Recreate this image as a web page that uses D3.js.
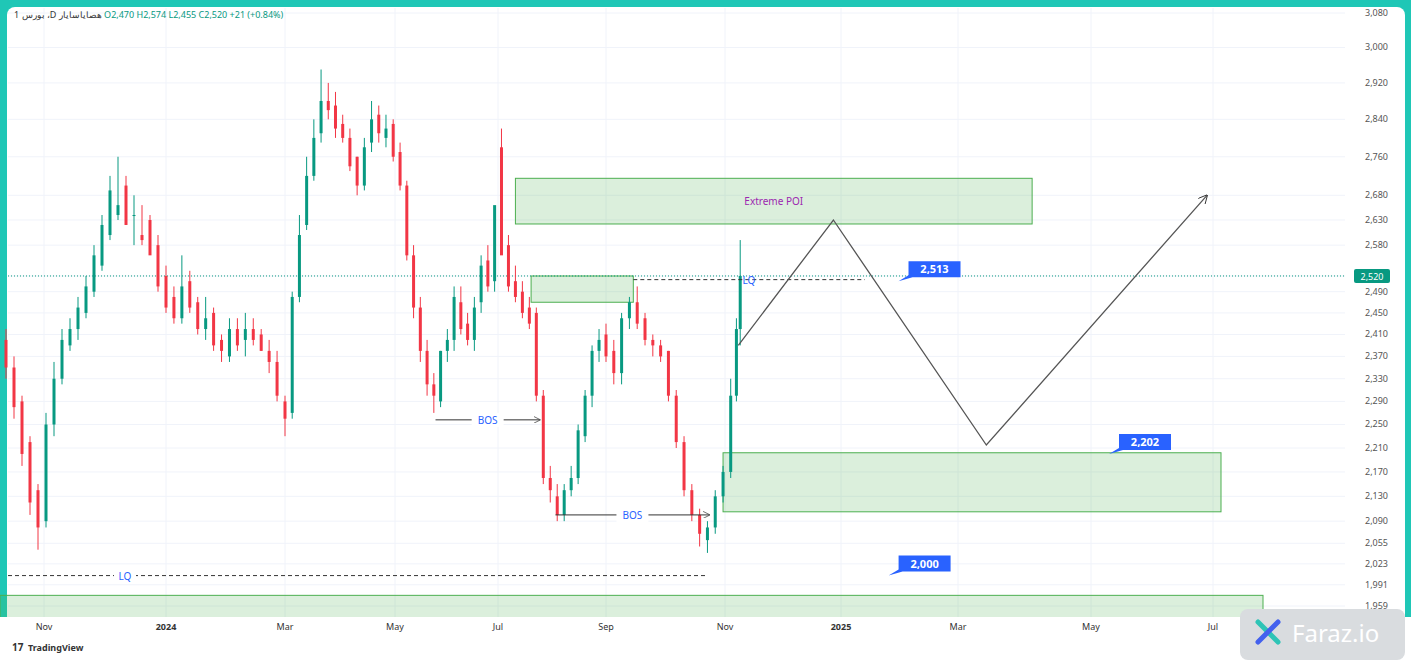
<!DOCTYPE html>
<html><head><meta charset="utf-8">
<script src="https://cdn.jsdelivr.net/npm/d3@7"></script>
<style>body{margin:0;background:#1fc7b6;font-family:"Noto Sans",Roboto,sans-serif}</style>
</head><body>
<svg id="c" width="1411" height="660"></svg>
<script>
const priceTicks=[3080,3000,2920,2840,2760,2680,2630,2580,2520,2490,2450,2410,2370,2330,2290,2250,2210,2170,2130,2090,2055,2023,1991,1959];
const timeTicks=[["2023-11-01","Nov"],["2024-01-01","2024"],["2024-03-01","Mar"],["2024-05-01","May"],["2024-07-01","Jul"],["2024-09-01","Sep"],["2024-11-01","Nov"],["2025-01-01","2025"],["2025-03-01","Mar"],["2025-05-01","May"],["2025-07-01","Jul"]];
const dates=["2023-10-13","2023-10-17","2023-10-21","2023-10-25","2023-10-29","2023-11-02","2023-11-06","2023-11-10","2023-11-14","2023-11-18","2023-11-22","2023-11-26","2023-11-30","2023-12-04","2023-12-08","2023-12-12","2023-12-16","2023-12-20","2023-12-24","2023-12-28","2024-01-01","2024-01-05","2024-01-09","2024-01-13","2024-01-17","2024-01-21","2024-01-25","2024-01-29","2024-02-02","2024-02-06","2024-02-10","2024-02-14","2024-02-18","2024-02-22","2024-02-26","2024-03-01","2024-03-05","2024-03-09","2024-03-13","2024-03-17","2024-03-21","2024-03-25","2024-03-29","2024-04-02","2024-04-06","2024-04-10","2024-04-14","2024-04-18","2024-04-22","2024-04-26","2024-04-30","2024-05-04","2024-05-08","2024-05-12","2024-05-16","2024-05-20","2024-05-24","2024-05-28","2024-06-01","2024-06-05","2024-06-09","2024-06-13","2024-06-17","2024-06-21","2024-06-25","2024-06-29","2024-07-03","2024-07-07","2024-07-11","2024-07-15","2024-07-19","2024-07-23","2024-07-27","2024-07-31","2024-08-04","2024-08-08","2024-08-12","2024-08-16","2024-08-20","2024-08-24","2024-08-28","2024-09-01","2024-09-05","2024-09-09","2024-09-13","2024-09-17","2024-09-21","2024-09-25","2024-09-29","2024-10-03","2024-10-07","2024-10-11","2024-10-15","2024-10-19","2024-10-23","2024-10-27","2024-10-31","2024-11-04","2024-11-07","2024-11-09"];
const opens=[2400,2350,2290,2220,2140,2090,2250,2330,2390,2420,2450,2490,2540,2600,2640,2700,2640,2600,2630,2580,2520,2480,2440,2510,2470,2420,2450,2400,2370,2420,2400,2420,2410,2380,2360,2290,2270,2480,2620,2720,2810,2880,2870,2830,2800,2760,2700,2790,2850,2800,2830,2770,2700,2560,2460,2380,2320,2290,2380,2400,2470,2430,2400,2470,2550,2510,2780,2580,2510,2490,2460,2450,2300,2160,2130,2100,2140,2160,2230,2300,2380,2410,2380,2340,2440,2470,2440,2400,2390,2380,2300,2220,2140,2100,2060,2080,2130,2170,2300,2420];
const highs=[2420,2370,2300,2230,2150,2270,2360,2420,2440,2480,2520,2580,2640,2720,2760,2720,2680,2660,2640,2600,2540,2500,2560,2530,2480,2480,2460,2410,2440,2440,2450,2440,2420,2400,2380,2300,2490,2640,2760,2840,2950,2920,2900,2850,2820,2760,2800,2880,2870,2850,2840,2790,2710,2580,2480,2400,2340,2380,2420,2500,2500,2450,2480,2560,2580,2560,2820,2600,2540,2510,2480,2460,2310,2180,2150,2150,2180,2250,2310,2390,2420,2430,2400,2450,2480,2500,2450,2410,2400,2380,2310,2230,2150,2110,2090,2140,2180,2330,2440,2590];
const lows=[2330,2260,2180,2100,2045,2080,2230,2320,2380,2400,2440,2480,2530,2590,2630,2620,2580,2580,2570,2490,2450,2430,2430,2450,2410,2400,2380,2360,2360,2380,2370,2390,2380,2340,2290,2230,2260,2470,2610,2710,2790,2840,2800,2790,2730,2680,2690,2770,2790,2780,2750,2690,2550,2440,2360,2300,2270,2280,2360,2380,2410,2390,2380,2450,2490,2490,2650,2490,2470,2440,2420,2290,2150,2120,2090,2090,2130,2150,2220,2280,2360,2360,2320,2320,2420,2420,2390,2370,2360,2290,2210,2130,2090,2050,2040,2070,2120,2160,2290,2390];
const closes=[2350,2280,2200,2120,2080,2250,2330,2400,2420,2460,2500,2560,2620,2690,2660,2620,2640,2590,2560,2500,2460,2440,2500,2460,2420,2440,2390,2380,2420,2390,2420,2400,2380,2360,2300,2260,2480,2600,2720,2800,2880,2860,2820,2800,2740,2700,2780,2840,2810,2820,2760,2700,2560,2460,2380,2320,2300,2380,2400,2480,2420,2400,2460,2540,2500,2660,2560,2500,2480,2450,2430,2300,2160,2140,2100,2140,2160,2240,2300,2380,2400,2370,2340,2440,2470,2430,2400,2390,2370,2300,2220,2140,2100,2070,2080,2130,2170,2300,2420,2520];

const svg=d3.select("#c");
svg.append("rect").attr("x",7).attr("y",7).attr("width",1398).attr("height",647).attr("rx",8).attr("fill","#fff");
const y=d3.scaleLog().domain([1959,3080]).range([606,13]);
const x=d3.scaleTime().domain(timeTicks.map(d=>new Date(d[0]))).range([44,166,285,395,498,606,725,841,958,1091,1213]);
const g=svg.append("g");
g.selectAll(".hg").data(priceTicks).join("line").attr("x1",8).attr("x2",1345).attr("y1",d=>y(d)).attr("y2",d=>y(d)).attr("stroke","#f0f3fa");
g.selectAll(".vg").data(timeTicks).join("line").attr("y1",8).attr("y2",617).attr("x1",d=>x(new Date(d[0]))).attr("x2",d=>x(new Date(d[0]))).attr("stroke","#f0f3fa");
const zone=(d1,d2,p1,p2)=>g.append("rect").attr("x",x(new Date(d1))).attr("width",x(new Date(d2))-x(new Date(d1))).attr("y",y(p1)).attr("height",y(p2)-y(p1)).attr("fill","rgba(76,175,80,0.2)").attr("stroke","#4caf50").attr("stroke-width",1);
zone("2024-07-11","2025-04-04",2715,2622);
zone("2024-07-20","2024-09-15",2520,2470);
zone("2024-10-31","2025-07-05",2202,2105);
zone("2023-10-10","2025-07-26",1975,1900);
svg.append("rect").attr("x",0).attr("y",617).attr("width",1411).attr("height",43).attr("fill","#fff");
g.append("text").attr("x",(x(new Date("2024-07-11"))+x(new Date("2025-04-04")))/2).attr("y",y(2668)+4).attr("text-anchor","middle").attr("font-size",10).attr("fill","#9c27b0").text("Extreme POI");
g.append("line").attr("x1",8).attr("x2",1345).attr("y1",y(2520)).attr("y2",y(2520)).attr("stroke","#089981").attr("stroke-dasharray","1,2");
const cd=g.selectAll(".cd").data(dates.map((d,i)=>({t:new Date(d),o:opens[i],h:highs[i],l:lows[i],c:closes[i]}))).join("g");
const col=d=>d.c>=d.o?"#089981":"#f23645";
cd.append("line").attr("x1",d=>x(d.t)).attr("x2",d=>x(d.t)).attr("y1",d=>y(d.h)).attr("y2",d=>y(d.l)).attr("stroke",col);
cd.append("rect").attr("x",d=>x(d.t)-1.5).attr("width",3).attr("y",d=>y(Math.max(d.o,d.c))).attr("height",d=>Math.max(1,Math.abs(y(d.o)-y(d.c)))).attr("fill",col);
g.append("line").attr("x1",x(new Date("2024-09-15"))).attr("x2",x(new Date("2025-01-13"))).attr("y1",y(2513)).attr("y2",y(2513)).attr("stroke","#333").attr("stroke-dasharray","4,3");
g.append("text").attr("x",x(new Date("2024-11-07"))+6).attr("y",y(2513)+4).attr("font-size",10).attr("fill","#2962ff").text("LQ");
g.append("line").attr("x1",8).attr("x2",x(new Date("2024-10-22"))).attr("y1",y(2005)).attr("y2",y(2005)).attr("stroke","#333").attr("stroke-dasharray","4,3");
g.append("rect").attr("x",114).attr("y",y(2005)-6).attr("width",22).attr("height",12).attr("fill","#fff");
g.append("text").attr("x",125).attr("y",y(2005)+4).attr("text-anchor","middle").attr("font-size",10).attr("fill","#2962ff").text("LQ");
svg.append("defs").append("marker").attr("id","ar").attr("viewBox","0 0 10 10").attr("refX",9).attr("refY",5).attr("markerWidth",7).attr("markerHeight",7).attr("orient","auto").append("path").attr("d","M0,0L10,5L0,10").attr("fill","none").attr("stroke","#333");
const bos=(d1,d2,p)=>{const a=x(new Date(d1)),b=x(new Date(d2));
g.append("line").attr("x1",a).attr("x2",b).attr("y1",y(p)).attr("y2",y(p)).attr("stroke","#333").attr("marker-end","url(#ar)");
g.append("rect").attr("x",(a+b)/2-16).attr("y",y(p)-7).attr("width",32).attr("height",14).attr("fill","#fff");
g.append("text").attr("x",(a+b)/2).attr("y",y(p)+4).attr("text-anchor","middle").attr("font-size",10).attr("fill","#2962ff").text("BOS");};
bos("2024-05-25","2024-07-25",2258);bos("2024-08-03","2024-10-24",2100);
const zz=[["2024-11-08",2390],["2024-12-28",2630],["2025-03-14",2215],["2025-06-28",2680]];
g.append("path").attr("d",d3.line().x(d=>x(new Date(d[0]))).y(d=>y(d[1]))(zz)).attr("fill","none").attr("stroke","#555").attr("stroke-width",1.3).attr("marker-end","url(#ar)");
const callout=(d,p,lbl)=>{const px=x(new Date(d)),py=y(p);
g.append("path").attr("d",`M${px},${py}L${px+10},${py-6}L${px+10},${py-20}L${px+62},${py-20}L${px+62},${py-4}L${px+14},${py-4}Z`).attr("fill","#2962ff");
g.append("text").attr("x",px+36).attr("y",py-8).attr("text-anchor","middle").attr("font-size",11).attr("font-weight","bold").attr("fill","#fff").text(lbl);};
callout("2025-01-30",2510,"2,513");callout("2025-05-10",2200,"2,202");callout("2025-01-25",2005,"2,000");
const ax=svg.append("g");
ax.selectAll("text").data(priceTicks.filter(d=>d!==2520)).join("text").attr("x",1388).attr("y",d=>y(d)+3).attr("text-anchor","end").attr("font-size",9).attr("fill","#555").text(d=>d3.format(",")(d));
ax.append("rect").attr("x",1354).attr("y",y(2520)-7).attr("width",36).attr("height",14).attr("rx",2).attr("fill","#089981");
ax.append("text").attr("x",1372).attr("y",y(2520)+4).attr("text-anchor","middle").attr("font-size",9).attr("fill","#fff").text("2,520");
svg.selectAll(".tt").data(timeTicks).join("text").attr("x",d=>x(new Date(d[0]))).attr("y",630).attr("text-anchor","middle").attr("font-size",9).attr("font-weight",d=>/\d/.test(d[1])?"bold":"normal").attr("fill","#333").text(d=>d[1]);
svg.append("text").attr("x",14).attr("y",18).attr("font-size",9).attr("fill","#333").text("1 بورس ،D هصایاسایار").append("tspan").attr("fill","#089981").text("  O2,470  H2,574  L2,455  C2,520  +21 (+0.84%)");
svg.append("text").attr("x",28).attr("y",651).attr("font-size",9).attr("font-weight","bold").attr("fill","#333").text("TradingView");
svg.append("text").attr("x",12).attr("y",651).attr("font-size",10).attr("font-weight","bold").attr("fill","#333").text("17");
svg.append("rect").attr("x",1240).attr("y",609).attr("width",165).attr("height",51).attr("rx",8).attr("fill","#d9dcdf");
svg.append("text").attr("x",1292).attr("y",642).attr("font-size",24).attr("fill","#fff").text("Faraz.io");
const star=svg.append("g").attr("transform","translate(1268,632)");
[[-10,-10,10,10,"#2ec4b6"],[10,-10,-10,10,"#4361ee"]].forEach(s=>star.append("line").attr("x1",s[0]).attr("y1",s[1]).attr("x2",s[2]).attr("y2",s[3]).attr("stroke",s[4]).attr("stroke-width",5).attr("stroke-linecap","round"));
</script></body></html>
